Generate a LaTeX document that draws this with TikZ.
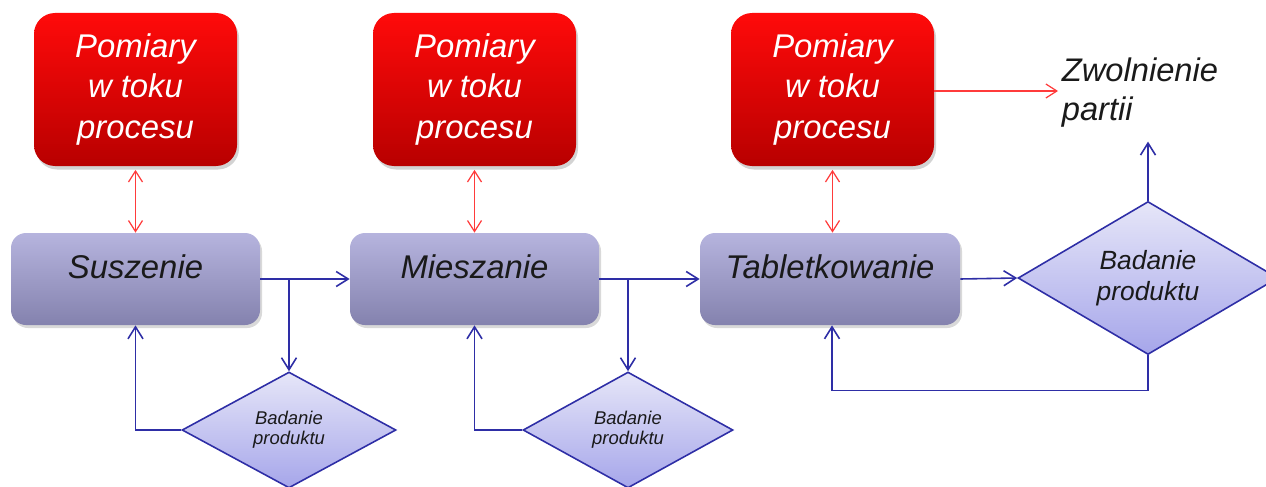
\documentclass[tikz,border=0pt]{standalone}
\usepackage{fontspec}
\setmainfont{Liberation Sans}
\usetikzlibrary{arrows.meta,shapes.geometric,shadows}
\definecolor{ink}{HTML}{1A1A1A}
\definecolor{redtop}{HTML}{FF0A0A}
\definecolor{redbot}{HTML}{B80000}
\definecolor{steptop}{HTML}{B6B4DE}
\definecolor{stepbot}{HTML}{8482AE}
\definecolor{testtop}{HTML}{E6E6F8}
\definecolor{testbot}{HTML}{A6A6EA}
\definecolor{flow}{HTML}{2E2EA6}
\definecolor{redflow}{HTML}{FF3B3B}

\begin{document}
\begin{tikzpicture}[
  text=ink,
  measure/.style={
    rectangle,
    rounded corners=0.42cm,
    top color=redtop,
    bottom color=redbot,
    draw=none,
    text=white,
    align=center,
    inner sep=0pt,
    minimum width=4.06cm,
    minimum height=3.06cm,
    font=\fontsize{18.7}{22.8}\selectfont\itshape,
    drop shadow={opacity=0.35,shadow xshift=0.04cm,shadow yshift=-0.07cm}
  },
  stage/.style={
    rectangle,
    rounded corners=0.3cm,
    top color=steptop,
    bottom color=stepbot,
    draw=none,
    align=center,
    inner sep=0pt,
    minimum height=1.84cm,
    text height=0.46cm,
    text depth=0.48cm,
    font=\fontsize{18.7}{22}\selectfont\itshape,
    drop shadow={opacity=0.3,shadow xshift=0.04cm,shadow yshift=-0.06cm}
  },
  test/.style={
    diamond,
    draw=flow,
    line width=0.9pt,
    top color=testtop,
    bottom color=testbot,
    align=center,
    inner sep=0pt
  },
  smalltest/.style={test, minimum width=4.28cm, minimum height=2.32cm,
    font=\fontsize{10.5}{11.5}\selectfont\itshape},
  bigtest/.style={test, shape aspect=1.7, minimum width=5.2cm, minimum height=3.06cm,
    font=\fontsize{15}{17.6}\selectfont\itshape},
  release/.style={align=left, anchor=west, inner sep=2pt,
    font=\fontsize{18.6}{22.2}\selectfont\itshape},
  arrow/.style={-{Straight Barb[length=0.24cm,width=0.3cm]}, line width=0.9pt, draw=flow},
  link/.style={{Straight Barb[length=0.22cm,width=0.28cm]}-{Straight Barb[length=0.22cm,width=0.28cm]}, line width=0.7pt, draw=redflow},
  redarrow/.style={-{Straight Barb[length=0.22cm,width=0.28cm]}, line width=0.7pt, draw=redflow}
]
\useasboundingbox (0,0) rectangle (25.32,9.72);

% pomiary
\node[measure] (pom1) at (2.71,7.93) {Pomiary\\w toku\\procesu};
\node[measure] (pom2) at (9.49,7.93) {Pomiary\\w toku\\procesu};
\node[measure] (pom3) at (16.65,7.93) {Pomiary\\w toku\\procesu};

% etapy
\node[stage, minimum width=4.98cm] (sus) at (2.71,4.14) {Suszenie};
\node[stage, minimum width=4.98cm] (mie) at (9.49,4.14) {Mieszanie};
\node[stage, minimum width=5.2cm] (tab) at (16.60,4.14) {Tabletkowanie};

% badania
\node[smalltest] (bad1) at (5.78,1.12) {Badanie\\produktu};
\node[smalltest, minimum width=4.2cm] (bad2) at (12.56,1.12) {Badanie\\produktu};
\node[bigtest] (bad3) at (22.96,4.16) {Badanie\\produktu};

\node[release] (zwol) at (21.16,7.86) {Zwolnienie\\partii};

\draw[link, shorten <=2pt] (pom1) -- (sus);
\draw[link, shorten <=2pt] (pom2) -- (mie);
\draw[link, shorten <=2pt] (pom3.south) -- (pom3.south |- tab.north);
\draw[redarrow] (pom3.east |- 0,7.9) -- (zwol.west |- 0,7.9);

\draw[arrow] (sus.east) -- (mie.west);
\draw[arrow] (mie.east) -- (tab.west);
\draw[arrow] (tab.east) -- (bad3.west);
\draw[arrow] (sus.east -| bad1.north) -- (bad1.north);
\draw[arrow] (mie.east -| bad2.north) -- (bad2.north);

\draw[arrow] (bad1.west) -| (sus.south);
\draw[arrow] (bad2.west) -| (mie.south);
\draw[arrow] (bad3.south) -- ++(0,-0.7) -| ([xshift=0.04cm]tab.south);
\draw[arrow] (bad3.north) -- ([yshift=-0.2cm]bad3.north |- zwol.south);

\end{tikzpicture}
\end{document}
